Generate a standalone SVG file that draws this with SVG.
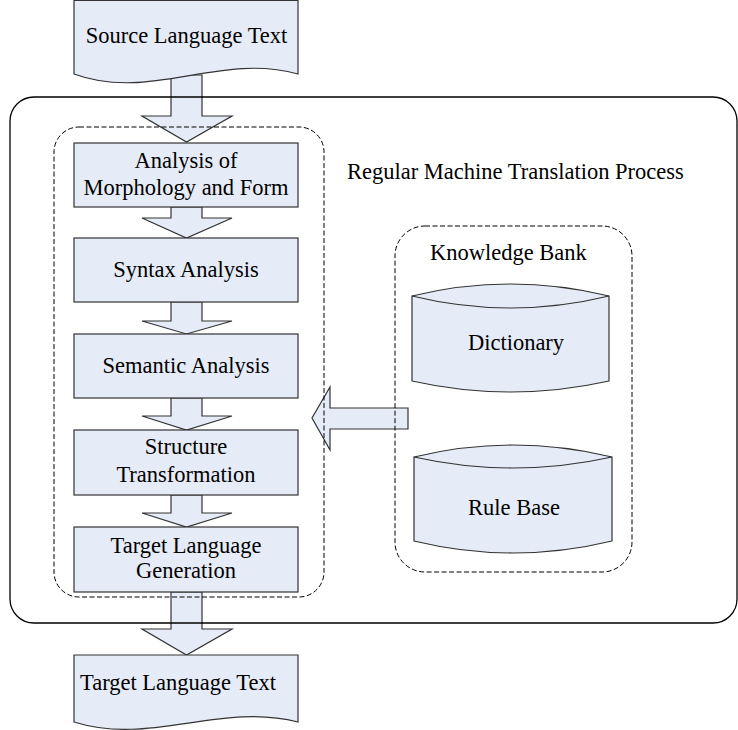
<svg xmlns="http://www.w3.org/2000/svg" width="738" height="730" viewBox="0 0 738 730">
  <style>
    .shape { fill: #E6ECF7; stroke: #333333; stroke-width: 1.2; }
    .arrow { fill: #E6ECF7; stroke: #333333; stroke-width: 1.2; stroke-linejoin: miter; }
    .frame { fill: none; stroke: #000000; stroke-width: 1.3; }
    .dashed { fill: none; stroke: #000000; stroke-width: 1; stroke-dasharray: 5 2.5; }
    .label { font-family: "Liberation Serif", "Times New Roman", serif; font-size: 22.5px; fill: #000000; }
    .mid { text-anchor: middle; }
  </style>

  <!-- Flow arrows (drawn first so container outlines stay visible over them) -->
  <g id="connectors">
    <!-- source text into the analysis stages -->
    <path class="arrow" d="M171,75 V116 H142 L186.5,142 L232,116 H202 V75 Z"/>
    <path class="arrow" d="M171,207 V218 H142 L186.5,238 L232,218 H202 V207 Z"/>
    <path class="arrow" d="M171,302 V321 H142 L186.5,334 L232,321 H202 V302 Z"/>
    <path class="arrow" d="M171,398 V416 H142 L186.5,430 L232,416 H202 V398 Z"/>
    <path class="arrow" d="M171,495 V513 H142 L186.5,527 L232,513 H202 V495 Z"/>
    <!-- generation out to target text -->
    <path class="arrow" d="M171,592 V629 H142 L186.5,655 L232,629 H202 V592 Z"/>
    <!-- knowledge bank feeding the analysis stages -->
    <path class="arrow" d="M408,408 H330 V387 L312,418 L330,450 V429 H408 Z"/>
  </g>

  <!-- Source document -->
  <g id="source-text">
    <path class="shape" d="M74,0.5 H298 V74 C220,52 150,102 74,74 Z"/>
    <text class="label mid" x="186.5" y="43">Source Language Text</text>
  </g>

  <!-- Processing stages -->
  <g id="morphology">
    <rect class="shape" x="74" y="143" width="224" height="64"/>
    <text class="label mid" x="186" y="168">Analysis of</text>
    <text class="label mid" x="186" y="195">Morphology and Form</text>
  </g>
  <g id="syntax">
    <rect class="shape" x="74" y="238" width="224" height="64"/>
    <text class="label mid" x="186" y="277">Syntax Analysis</text>
  </g>
  <g id="semantic">
    <rect class="shape" x="74" y="334" width="224" height="64"/>
    <text class="label mid" x="186" y="373">Semantic Analysis</text>
  </g>
  <g id="structure">
    <rect class="shape" x="74" y="430" width="224" height="65"/>
    <text class="label mid" x="186" y="454">Structure</text>
    <text class="label mid" x="186" y="482">Transformation</text>
  </g>
  <g id="generation">
    <rect class="shape" x="74" y="527" width="224" height="65"/>
    <text class="label mid" x="186" y="553">Target Language</text>
    <text class="label mid" x="186" y="578">Generation</text>
  </g>

  <!-- Target document -->
  <g id="target-text">
    <path class="shape" d="M74,655 H298 V722 C220,702 150,746 74,722 Z"/>
    <text class="label" x="80" y="690">Target Language Text</text>
  </g>

  <!-- Knowledge stores -->
  <g id="dictionary">
    <path class="shape" d="M412,296 Q510.5,272 609,296 V381 Q510.5,403 412,381 Z"/>
    <path class="shape" style="fill:none" d="M412,296 Q510.5,320 609,296"/>
    <text class="label mid" x="516" y="350">Dictionary</text>
  </g>
  <g id="rule-base">
    <path class="shape" d="M414,457 Q513,433 612,457 V541 Q513,565 414,541 Z"/>
    <path class="shape" style="fill:none" d="M414,457 Q513,479 612,457"/>
    <text class="label mid" x="514" y="515">Rule Base</text>
  </g>

  <!-- Containers -->
  <g id="analysis-group">
    <rect class="dashed" x="54" y="127" width="270" height="470" rx="25" ry="25"/>
  </g>
  <g id="knowledge-bank">
    <rect class="dashed" x="395" y="226" width="237" height="346" rx="30" ry="30"/>
    <text class="label" x="430" y="260">Knowledge Bank</text>
  </g>
  <g id="translation-process">
    <rect class="frame" x="10" y="97" width="727" height="526" rx="24" ry="24"/>
    <text class="label" x="347" y="179">Regular Machine Translation Process</text>
  </g>
</svg>
